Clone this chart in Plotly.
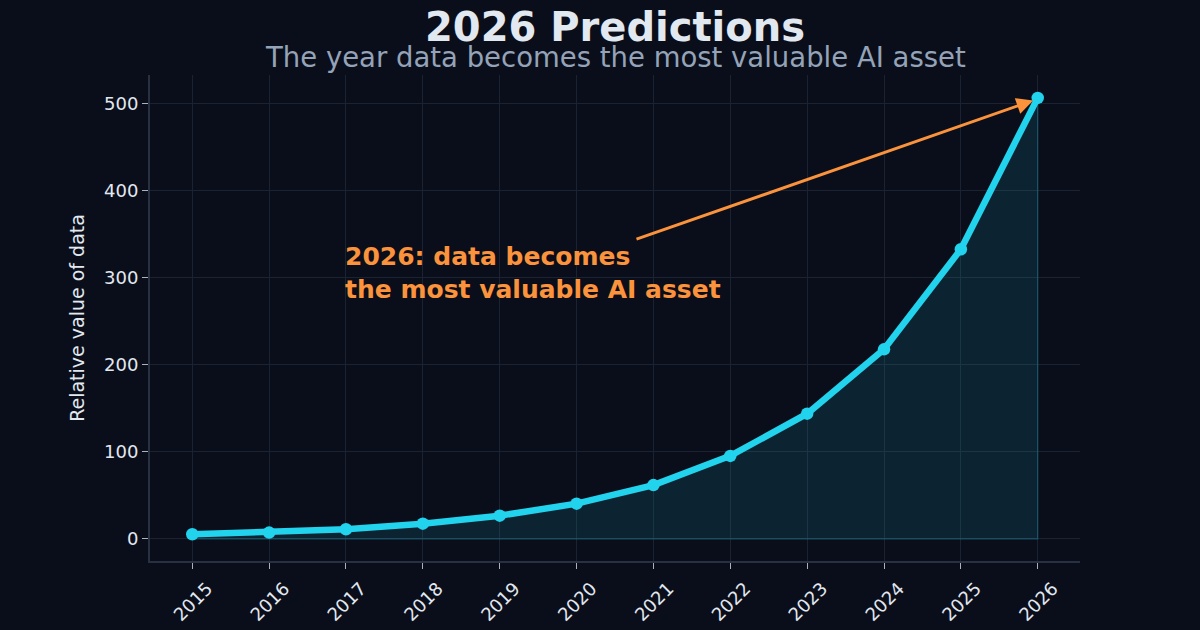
import plotly.graph_objects as go

# values
years = [2015, 2016, 2017, 2018, 2019, 2020, 2021, 2022, 2023, 2024, 2025, 2026]
data_value = [5.4, 7.4, 11.2, 17.6, 26.8, 40.6, 62, 95.5, 144, 218, 333, 507]
y_ticks = [0, 100, 200, 300, 400, 500]

title_text = '2026 Predictions'
subtitle_text = 'The year data becomes the most valuable AI asset'
note_text = '2026: data becomes<br>the most valuable AI asset'
note_pos = (2017.0, 306)
arrow_tail = (2020.76, 344)

BG = '#0a0e1a'
CYAN = '#22d3ee'
ORANGE = '#fb923c'
GRID = '#1b2231'
SPINE = '#283041'
FONT = 'DejaVu Sans'

fig = go.Figure()

# shaded area under the curve (closed polygon so the edge is drawn too)
fig.add_trace(go.Scatter(
    x=years + [years[-1], years[0]],
    y=data_value + [0, 0],
    mode='lines',
    fill='toself',
    fillcolor='rgba(34,211,238,0.11)',
    line=dict(color='rgba(34,211,238,0.22)', width=1.5),
    hoverinfo='skip',
    showlegend=False,
))

fig.add_trace(go.Scatter(
    x=years,
    y=data_value,
    mode='lines+markers',
    line=dict(color=CYAN, width=6.5),
    marker=dict(color=CYAN, size=12.5),
    showlegend=False,
    hovertemplate='%{x}: %{y:.1f}<extra></extra>',
))

# arrow pointing at the 2026 value
fig.add_annotation(
    x=years[-1] - 0.06, y=data_value[-1] - 3,
    ax=arrow_tail[0], ay=arrow_tail[1],
    xref='x', yref='y', axref='x', ayref='y',
    text='', showarrow=True,
    arrowhead=2, arrowsize=1.1, arrowwidth=3, arrowcolor=ORANGE,
)
fig.add_annotation(
    x=note_pos[0], y=note_pos[1], xref='x', yref='y',
    text='<b>' + note_text + '</b>', showarrow=False,
    xanchor='left', yanchor='middle', align='left', xshift=-3,
    font=dict(family=FONT, size=25, color=ORANGE),
)

# title and subtitle, centred over the plot area
fig.add_annotation(
    x=0.5, y=1 + 48 / 486, xref='paper', yref='paper',
    text='<b>' + title_text + '</b>', showarrow=False,
    xanchor='center', yanchor='middle',
    font=dict(family=FONT, size=40, color='#e2e8f0'),
)
fig.add_annotation(
    x=0.5, y=1 + 18 / 486, xref='paper', yref='paper',
    text=subtitle_text, showarrow=False,
    xanchor='center', yanchor='middle',
    font=dict(family=FONT, size=27.5, color='#94a3b8'),
)

axis_common = dict(
    showgrid=True, gridcolor=GRID, gridwidth=1,
    showline=True, linecolor=SPINE, linewidth=2,
    ticks='outside', ticklen=6, tickwidth=1.2, tickcolor='#aab2c0',
    tickfont=dict(family=FONT, size=18, color='#e2e8f0'),
    zeroline=False, automargin=False,
)

fig.update_layout(
    width=1200, height=630,
    paper_bgcolor=BG, plot_bgcolor=BG,
    margin=dict(l=150, r=120, t=75, b=69),
    font=dict(family=FONT, color='#e2e8f0'),
    xaxis=dict(
        axis_common,
        range=[2014.45, 2026.55],
        tickmode='array', tickvals=years, ticktext=[str(y) for y in years],
        tickangle=-45, ticklabelshift=15, ticklabelstandoff=2,
    ),
    yaxis=dict(
        axis_common,
        range=[-25.3, 533.3],
        tickmode='array', tickvals=y_ticks,
        title=dict(text='Relative value of data', standoff=14,
                   font=dict(family=FONT, size=19, color='#e2e8f0')),
    ),
)

# drop the default page margin so the chart sits at the window corner
fig.write_html('out.html', config={'displayModeBar': False},
               post_script="document.body.style.margin='0';")
